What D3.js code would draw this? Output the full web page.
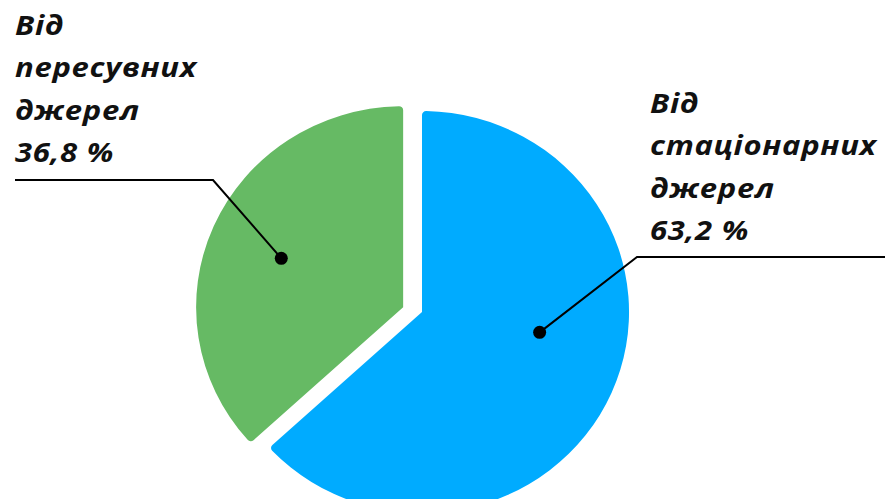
<!DOCTYPE html>
<html>
<head>
<meta charset="utf-8">
<script src="https://cdn.jsdelivr.net/npm/d3@7"></script>
<style>
  body { margin: 0; background: #fff; }
  .lbl { font-family: "Open Sans", sans-serif; font-weight: bold; font-style: italic; font-size: 27px; letter-spacing: 0.6px; fill: #111; }
</style>
</head>
<body>
<div class="chart"></div>
<script>
// chart data
var categories = ["Від стаціонарних джерел", "Від пересувних джерел"];
var values = [63.2, 36.8];
var labelLines = [
  ["Від", "стаціонарних", "джерел", "63,2 %"],
  ["Від", "пересувних", "джерел", "36,8 %"]
];
var colors = ["#00abff", "#66ba64"];

var svgWidth = 885, svgHeight = 499;
var cx = 422, cy = 312, radius = 201;
var stretchX = 1.03;

var svg = d3.select(".chart")
  .append("svg")
  .attr("width", svgWidth)
  .attr("height", svgHeight);

var pie = d3.pie().sort(null).value(d => d);
var arcs = pie(values);

var arc = d3.arc()
  .innerRadius(0)
  .outerRadius(radius)
  .cornerRadius(4);

// explode offsets (green slice pulled out)
var explode = [0, 20];
// where the leader dot sits inside each slice (fraction of angle, distance)
var dotFrac = [0.44, 0.49];
var dotDist = [116, 128];

function offsetOf(d, i) {
  var mid = (d.startAngle + d.endAngle) / 2;
  var p = d3.pointRadial(mid, explode[i]);
  return [p[0] * stretchX, p[1] * 0.6];
}

var pieGroup = svg.append("g")
  .attr("transform", `translate(${cx}, ${cy})`);

var slices = pieGroup.selectAll(".slice")
  .data(arcs)
  .enter()
  .append("g")
  .attr("class", "slice")
  .attr("transform", (d, i) => {
    var o = offsetOf(d, i);
    return `translate(${o[0]}, ${o[1]}) scale(${stretchX}, 1)`;
  });

slices.append("path")
  .attr("d", arc)
  .attr("fill", (d, i) => colors[i]);

// leader lines + labels
var labelPos = [
  { x: 650, y: 113, elbow: [637, 257], end: 885 },
  { x: 15, y: 35, elbow: [213, 180], end: 15 }
];
var lineStep = 42.5;

arcs.forEach(function(d, i) {
  var a = d.startAngle + dotFrac[i] * (d.endAngle - d.startAngle);
  var off = offsetOf(d, i);
  var p = d3.pointRadial(a, dotDist[i]);
  var dx = cx + off[0] + p[0] * stretchX, dy = cy + off[1] + p[1];
  var lp = labelPos[i];

  svg.append("polyline")
    .attr("points", `${dx},${dy} ${lp.elbow[0]},${lp.elbow[1]} ${lp.end},${lp.elbow[1]}`)
    .attr("fill", "none")
    .attr("stroke", "#000")
    .attr("stroke-width", 2);

  svg.append("circle")
    .attr("cx", dx)
    .attr("cy", dy)
    .attr("r", 6.5)
    .attr("fill", "#000");

  // text is a bit wider than the font, stretch it horizontally
  var t = svg.append("text")
    .attr("class", "lbl")
    .attr("transform", `translate(${lp.x}, ${lp.y}) scale(1.15, 1)`);
  labelLines[i].forEach(function(line, j) {
    t.append("tspan")
      .attr("x", 0)
      .attr("y", j * lineStep)
      .text(line);
  });
});
</script>
</body>
</html>
